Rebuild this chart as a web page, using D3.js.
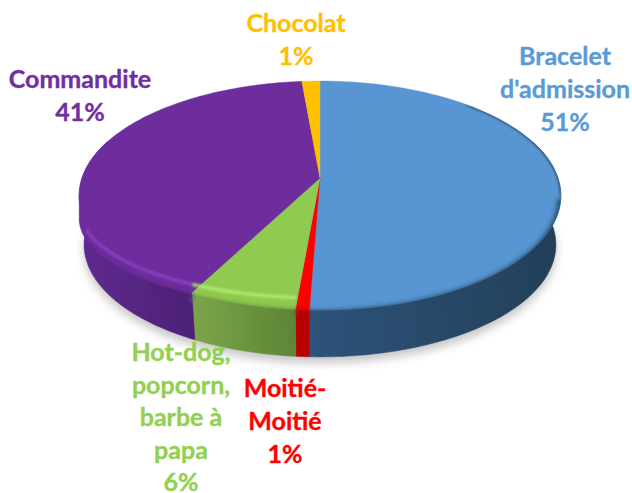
<!DOCTYPE html>
<html>
<head>
<meta charset="utf-8">
<script src="https://cdn.jsdelivr.net/npm/d3@7"></script>
<style>
	html, body { margin: 0; padding: 0; background: #fff; }
	svg { display: block; }
	text { font-family: Lato, "Open Sans", sans-serif; font-weight: 700; font-size: 25px; text-anchor: middle; stroke-width: 0.35px; }
</style>
</head>
<body>
<svg></svg>
<script>
const categories = ["Bracelet d'admission", "Moitié-Moitié", "Hot-dog, popcorn, barbe à papa", "Commandite", "Chocolat"];
const values = [50.6, 0.8, 6.3, 40.9, 1.4];
const labelLines = [["Bracelet", "d'admission"], ["Moitié-", "Moitié"], ["Hot-dog,", "popcorn,", "barbe à", "papa"], ["Commandite"], ["Chocolat"]];

const size = { w: 632, h: 493 };
const colors = ["#5b9bd5", "#ff0000", "#92d050", "#7030a0", "#ffc000"];
const faceColors = ["#5796d2", "#ff0000", "#8fcb50", "#6e2d9c", "#ffc000"];
const wallColors = [["#2d537a", "#233f58"], ["#b80000", "#b80000"], ["#7ca54a", "#5c8536"], ["#5f2a90", "#4c2175"], ["#8a6a00", "#8a6a00"]];
const glowColors = [null, null, "#b4ec70", "#8a42c4", null];
const labelPos = [
	{ x: 565, y: 64.5 },
	{ x: 285, y: 397 },
	{ x: 181, y: 361 },
	{ x: 80, y: 87.5 },
	{ x: 296, y: 32 },
];

const pie = { cx: 320, cy: 178, a: 238, b: 111.8, k: 0.153, bottomR: 0.98, depth: 50 };
// the bevel does not follow the face outline on the left, it sits on a flatter ellipse
const rim = { cy: 218, h: 90, rx: 241 };
const glow = { cy: 208, h: 90, rx: 241 };

const svg = d3.select("svg").attr("width", size.w).attr("height", size.h);
const defs = svg.append("defs");

[["blur5", 5], ["blur3", 2.6], ["blur1", 1]].forEach(([id, dev]) => {
	defs.append("filter")
		.attr("id", id)
		.attr("filterUnits", "userSpaceOnUse")
		.attr("x", 0).attr("y", 0)
		.attr("width", size.w).attr("height", size.h)
		.append("feGaussianBlur").attr("stdDeviation", dev);
});

// circle seen in perspective, so the centre sits above the middle of the ellipse
function project(angle, r, dy = 0) {
	const u = Math.sin(angle) * r;
	const v = -Math.cos(angle) * r;
	const w = 1 - pie.k * v;
	return [pie.cx + (pie.a * u) / w, pie.cy + (pie.b * v) / w + dy];
}

function arcPoints(a0, a1, r, dy) {
	const n = Math.max(2, Math.ceil((a1 - a0) / 0.02));
	return d3.range(n + 1).map((i) => project(a0 + ((a1 - a0) * i) / n, r, dy));
}

function curveY(c, x) {
	const t = Math.min(1, Math.abs(x - pie.cx) / c.rx);
	return c.cy + c.h * Math.sqrt(1 - t * t);
}

const line = d3.line();
const arcs = d3.pie().sort(null)(values);
const tau = Math.PI * 2;
const wallFrom = Math.PI / 2 - 0.35;
const wallTo = (Math.PI * 3) / 2 + 0.35;
// angles where the outline reaches its widest point
const frontFrom = Math.PI / 2 + pie.k;
const frontTo = (Math.PI * 3) / 2 - pie.k;

// lower edge of the lit part of a slice
function rimPoints(a0, a1, i) {
	return arcPoints(a0, a1, 1, 0).map((p) => {
		if (i == 0) return p;
		return [p[0], Math.max(p[1], curveY(rim, p[0]))];
	});
}

const face = arcPoints(0, tau, 1, 0);
const bottom = arcPoints(0, tau, pie.bottomR, pie.depth);

svg.append("path")
	.attr("d", line(arcPoints(0, tau, pie.bottomR, pie.depth + 6)) + "Z")
	.attr("fill", "#8c8c8c")
	.attr("opacity", 0.5)
	.attr("filter", "url(#blur5)");

const clip = defs.append("clipPath").attr("id", "disc");
clip.append("path").attr("d", line(face) + "Z");
clip.append("path").attr("d", line(bottom) + "Z");
clip.append("path").attr("d", () => {
	const right = arcPoints(wallFrom, wallTo, 1, 0);
	const low = arcPoints(wallFrom, wallTo, pie.bottomR, pie.depth).reverse();
	return line(right.concat(low)) + "Z";
});

// side wall
arcs.forEach((d, i) => {
	const a0 = Math.max(d.startAngle, wallFrom);
	const a1 = Math.min(d.endAngle, wallTo);
	if (a1 <= a0) return;
	const top = arcPoints(a0, a1, 1, 0);
	const low = arcPoints(a0, a1, pie.bottomR, pie.depth).reverse();
	const pts = top.concat(low);
	const ext = d3.extent(pts, (p) => p[0]);
	const grad = defs.append("linearGradient")
		.attr("id", `wall${i}`)
		.attr("gradientUnits", "userSpaceOnUse")
		.attr("x1", ext[0]).attr("x2", ext[1])
		.attr("y1", 0).attr("y2", 0);
	grad.append("stop").attr("offset", 0).attr("stop-color", wallColors[i][0]);
	grad.append("stop").attr("offset", 1).attr("stop-color", wallColors[i][1]);
	svg.append("path")
		.attr("d", line(pts) + "Z")
		.attr("fill", `url(#wall${i})`)
		.attr("stroke", `url(#wall${i})`)
		.attr("stroke-width", 0.5);
});

// top face, with the bevel band under it
arcs.forEach((d, i) => {
	const top = arcPoints(d.startAngle, d.endAngle, 1, 0);
	svg.append("path")
		.attr("d", line([[pie.cx, pie.cy]].concat(top)) + "Z")
		.attr("fill", faceColors[i])
		.attr("stroke", faceColors[i])
		.attr("stroke-width", 0.4);
	const a0 = Math.max(d.startAngle, frontFrom);
	const a1 = Math.min(d.endAngle, frontTo);
	if (a1 <= a0) return;
	const low = rimPoints(a0, a1, i).reverse();
	svg.append("path")
		.attr("d", line(arcPoints(a0, a1, 1, 0).concat(low)) + "Z")
		.attr("fill", faceColors[i])
		.attr("stroke", faceColors[i])
		.attr("stroke-width", 0.4);
});

const soft = svg.append("g").attr("clip-path", "url(#disc)");

// soft step from the bevel into the wall
arcs.forEach((d, i) => {
	const a0 = Math.max(d.startAngle, frontFrom);
	const a1 = Math.min(d.endAngle, frontTo);
	if (a1 <= a0) return;
	soft.append("path")
		.attr("d", line(rimPoints(a0, a1, i).map((p) => [p[0], p[1] + 3])))
		.attr("fill", "none")
		.attr("stroke", `url(#wall${i})`)
		.attr("stroke-width", 6)
		.attr("filter", "url(#blur3)");
});

// dark thin edge on the upper right of the blue slice
soft.append("path")
	.attr("d", line(arcPoints(0.75, frontFrom, 1, 0)))
	.attr("fill", "none")
	.attr("stroke", "#2a4a68")
	.attr("stroke-width", 2)
	.attr("filter", "url(#blur1)");

// light line along the bevel of the green and purple slices
arcs.forEach((d, i) => {
	if (!glowColors[i]) return;
	const xs = d3.extent(arcPoints(d.startAngle, Math.min(d.endAngle, frontTo), 1, 0), (p) => p[0]);
	const pts = d3.range(Math.max(xs[0], 84), xs[1] + 1, 2).map((x) => [x, curveY(glow, x)]);
	soft.append("path")
		.attr("d", line(pts))
		.attr("fill", "none")
		.attr("stroke", glowColors[i])
		.attr("stroke-width", 3.5)
		.attr("opacity", 0.85)
		.attr("filter", "url(#blur1)");
});

// labels
const lineStep = 33;
const labels = svg.selectAll("text.label")
	.data(categories)
	.join("text")
	.attr("class", "label")
	.attr("fill", (d, i) => colors[i])
	.attr("stroke", (d, i) => colors[i])
	.attr("aria-label", (d) => d);

labels.each(function (d, i) {
	const rows = labelLines[i].concat(d3.format(".0f")(values[i]) + "%");
	d3.select(this).selectAll("tspan")
		.data(rows)
		.join("tspan")
		.attr("x", labelPos[i].x)
		.attr("y", (r, j) => labelPos[i].y + j * (rows.length > 4 ? 32.5 : lineStep))
		.text((r) => r);
});
</script>
</body>
</html>
